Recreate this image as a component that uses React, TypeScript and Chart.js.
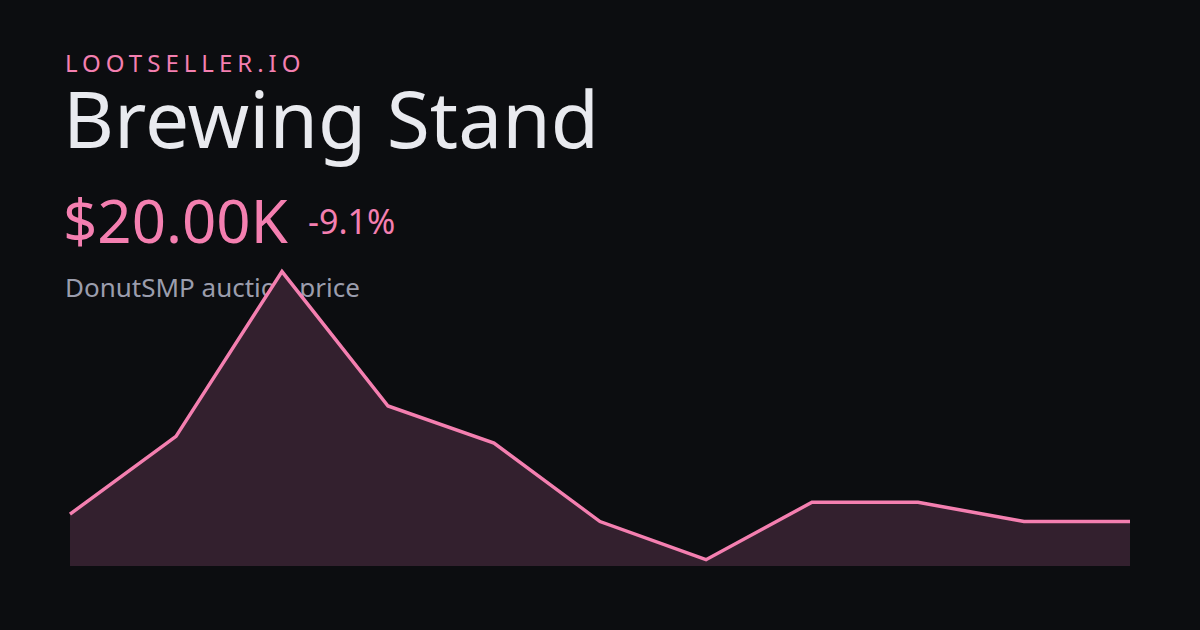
import React, { useEffect, useRef } from "react";
import { Chart, registerables } from "chart.js";

Chart.register(...registerables);

const labels = ["1", "2", "3", "4", "5", "6", "7", "8", "9", "10", "11"];
const prices = [22.0, 43.0, 87.5, 51.2, 41.2, 20.0, 9.7, 25.2, 25.2, 20.0, 20.0];
const yMin = 8;
const yMax = 89;

const BG = "#0c0d10";
const PINK = "#f47fb0";
const FILL = "#33202e";

export default function App() {
  const ref = useRef<HTMLCanvasElement | null>(null);

  useEffect(() => {
    if (!ref.current) return;
    const chart = new Chart(ref.current, {
      type: "line",
      data: {
        labels,
        datasets: [
          {
            data: prices,
            borderColor: PINK,
            backgroundColor: FILL,
            borderWidth: 3.5,
            fill: "start",
            pointRadius: 0,
            tension: 0,
            borderJoinStyle: "miter",
            clip: false as any,
          },
        ],
      },
      options: {
        animation: false,
        responsive: false,
        maintainAspectRatio: false,
        layout: { padding: { left: 70, right: 70, top: 266, bottom: 64 } },
        plugins: { legend: { display: false }, tooltip: { enabled: false } },
        scales: {
          x: { display: false, offset: false },
          y: { display: false, min: yMin, max: yMax },
        },
      },
    });
    return () => chart.destroy();
  }, []);

  const font = "'Noto Sans', sans-serif";
  const txt = (top: number, size: number): React.CSSProperties => ({
    position: "absolute",
    left: 65,
    top,
    fontSize: size,
    lineHeight: 1,
    fontFamily: font,
    whiteSpace: "nowrap",
  });

  return (
    <div style={{ position: "fixed", left: 0, top: 0, width: 1200, height: 630, background: BG, overflow: "hidden" }}>
      <div style={{ ...txt(51.4, 24), color: PINK, letterSpacing: 5.0 }}>LOOTSELLER.IO</div>
      <div style={{ ...txt(79.0, 78.5), color: "#e9eaef", left: 63 }}>Brewing Stand</div>
      <div style={{ ...txt(190.0, 60), color: PINK, left: 63 }}>$20.00K</div>
      <div style={{ ...txt(204.1, 34), color: PINK, left: 308 }}>-9.1%</div>
      <div style={{ ...txt(273.9, 26), color: "#9b9dad" }}>DonutSMP auction price</div>
      <canvas ref={ref} width={1200} height={630} style={{ position: "absolute", left: 0, top: 0, width: 1200, height: 630 }} />
    </div>
  );
}
